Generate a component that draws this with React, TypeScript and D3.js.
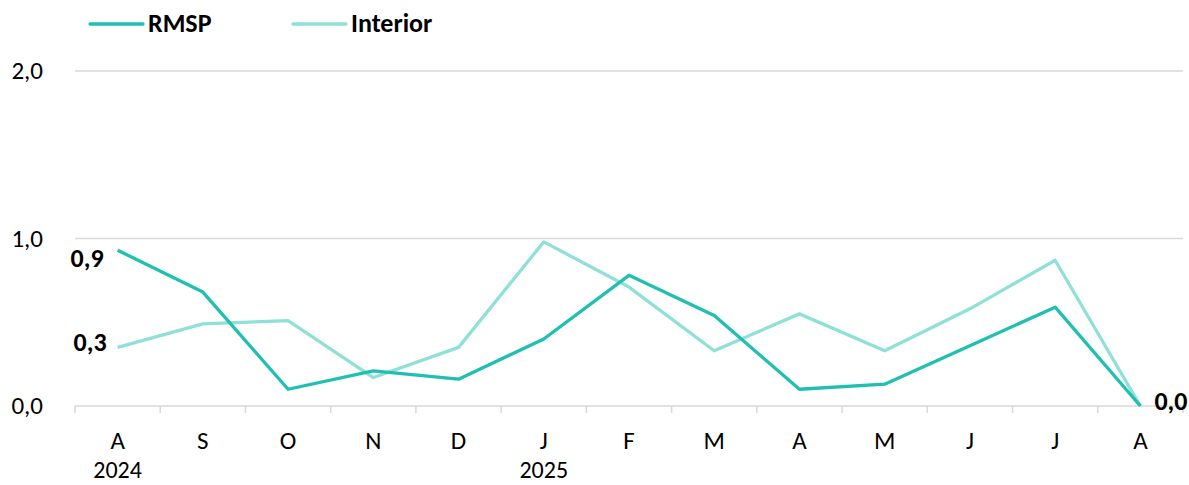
import * as d3 from "d3";
import { useEffect, useRef } from "react";

const months = ["A", "S", "O", "N", "D", "J", "F", "M", "A", "M", "J", "J", "A"];
const years = ["2024", "", "", "", "", "2025", "", "", "", "", "", "", ""];
const rmsp = [0.93, 0.68, 0.1, 0.21, 0.16, 0.4, 0.78, 0.54, 0.1, 0.13, 0.36, 0.59, 0.0];
const interior = [0.35, 0.49, 0.51, 0.17, 0.35, 0.98, 0.71, 0.33, 0.55, 0.33, 0.58, 0.87, 0.0];
const yTicks = [0, 1, 2];

const seriesList = [
  { name: "RMSP", values: rmsp, color: "#1fbfb1" },
  { name: "Interior", values: interior, color: "#8fe0d8" },
];

// comma as decimal separator
const fmt = (v: number) => v.toFixed(1).replace(".", ",");

export default function App() {
  const svgRef = useRef<SVGSVGElement | null>(null);
  const width = 1189;
  const height = 485;

  useEffect(() => {
    if (!svgRef.current) return;
    const svg = d3.select(svgRef.current);
    svg.selectAll("*").remove();

    const left = 75;
    const right = 1183;
    const top = 71;
    const bottom = 406;
    const font = "Calibri, Carlito, 'Open Sans', sans-serif";
    const fs = 25;

    const x = d3
      .scaleBand<number>()
      .domain(months.map((_, i) => i))
      .range([left, right])
      .padding(0);
    const y = d3.scaleLinear().domain([0, 2]).range([bottom, top]);
    const cx = (i: number) => x(i)! + x.bandwidth() / 2;

    // gridlines
    svg
      .append("g")
      .selectAll("line")
      .data(yTicks)
      .enter()
      .append("line")
      .attr("x1", left)
      .attr("x2", right)
      .attr("y1", (d) => y(d))
      .attr("y2", (d) => y(d))
      .attr("stroke", "#d9d9d9")
      .attr("stroke-width", 1.5);

    // y labels
    svg
      .append("g")
      .selectAll("text")
      .data(yTicks)
      .enter()
      .append("text")
      .attr("x", 43)
      .attr("y", (d) => y(d) + 8)
      .attr("text-anchor", "end")
      .attr("font-family", font)
      .attr("font-size", fs)
      .attr("fill", "#000")
      .text((d) => fmt(d));

    // x tick marks between categories
    const edges = d3.range(months.length + 1).map((i) => left + i * x.bandwidth());
    svg
      .append("g")
      .selectAll("line")
      .data(edges)
      .enter()
      .append("line")
      .attr("x1", (d) => d)
      .attr("x2", (d) => d)
      .attr("y1", bottom)
      .attr("y2", bottom + 7)
      .attr("stroke", "#d9d9d9")
      .attr("stroke-width", 1.5);

    // month labels
    svg
      .append("g")
      .selectAll("text")
      .data(months)
      .enter()
      .append("text")
      .attr("x", (_, i) => cx(i))
      .attr("y", 449)
      .attr("text-anchor", "middle")
      .attr("font-family", font)
      .attr("font-size", fs)
      .text((d) => d);

    // year labels under the first month of each year
    svg
      .append("g")
      .selectAll("text")
      .data(years)
      .enter()
      .append("text")
      .attr("x", (_, i) => cx(i))
      .attr("y", 478)
      .attr("text-anchor", "middle")
      .attr("font-family", font)
      .attr("font-size", fs - 1)
      .text((d) => d);

    // lines
    const line = d3
      .line<number>()
      .x((_, i) => cx(i))
      .y((d) => y(d));

    seriesList
      .slice()
      .reverse()
      .forEach((s) => {
        svg
          .append("path")
          .datum(s.values)
          .attr("fill", "none")
          .attr("stroke", s.color)
          .attr("stroke-width", 3.3)
          .attr("stroke-linejoin", "round")
          .attr("d", line);
      });

    // data labels (first and last points)
    const first = 0;
    const last = months.length - 1;
    const label = (text: string, lx: number, ly: number, anchor: string) =>
      svg
        .append("text")
        .attr("x", lx)
        .attr("y", ly)
        .attr("text-anchor", anchor)
        .attr("font-family", font)
        .attr("font-size", fs + 1)
        .attr("font-weight", "bold")
        .text(text);

    label(fmt(Math.floor(rmsp[first] * 10) / 10), cx(first) - 14, y(rmsp[first]) + 17, "end");
    label(fmt(Math.floor(interior[first] * 10) / 10), cx(first) - 11, y(interior[first]) + 4, "end");
    label(fmt(rmsp[last]), cx(last) + 14, y(rmsp[last]) + 4, "start");

    // legend
    const legend = svg.append("g").attr("transform", "translate(90,24)");
    seriesList.forEach((s, i) => {
      const g = legend.append("g").attr("transform", `translate(${i * 203},0)`);
      g.append("line")
        .attr("x1", 0)
        .attr("x2", 53)
        .attr("y1", 0)
        .attr("y2", 0)
        .attr("stroke", s.color)
        .attr("stroke-width", 3.3)
        .attr("stroke-linecap", "round");
      g.append("text")
        .attr("x", 58)
        .attr("y", 8)
        .attr("font-family", font)
        .attr("font-size", fs + 1)
        .attr("font-weight", "bold")
        .text(s.name);
    });
  }, []);

  return (
    <svg
      ref={svgRef}
      width={width}
      height={height}
      style={{ position: "absolute", left: 0, top: 0, background: "#fff" }}
    />
  );
}
